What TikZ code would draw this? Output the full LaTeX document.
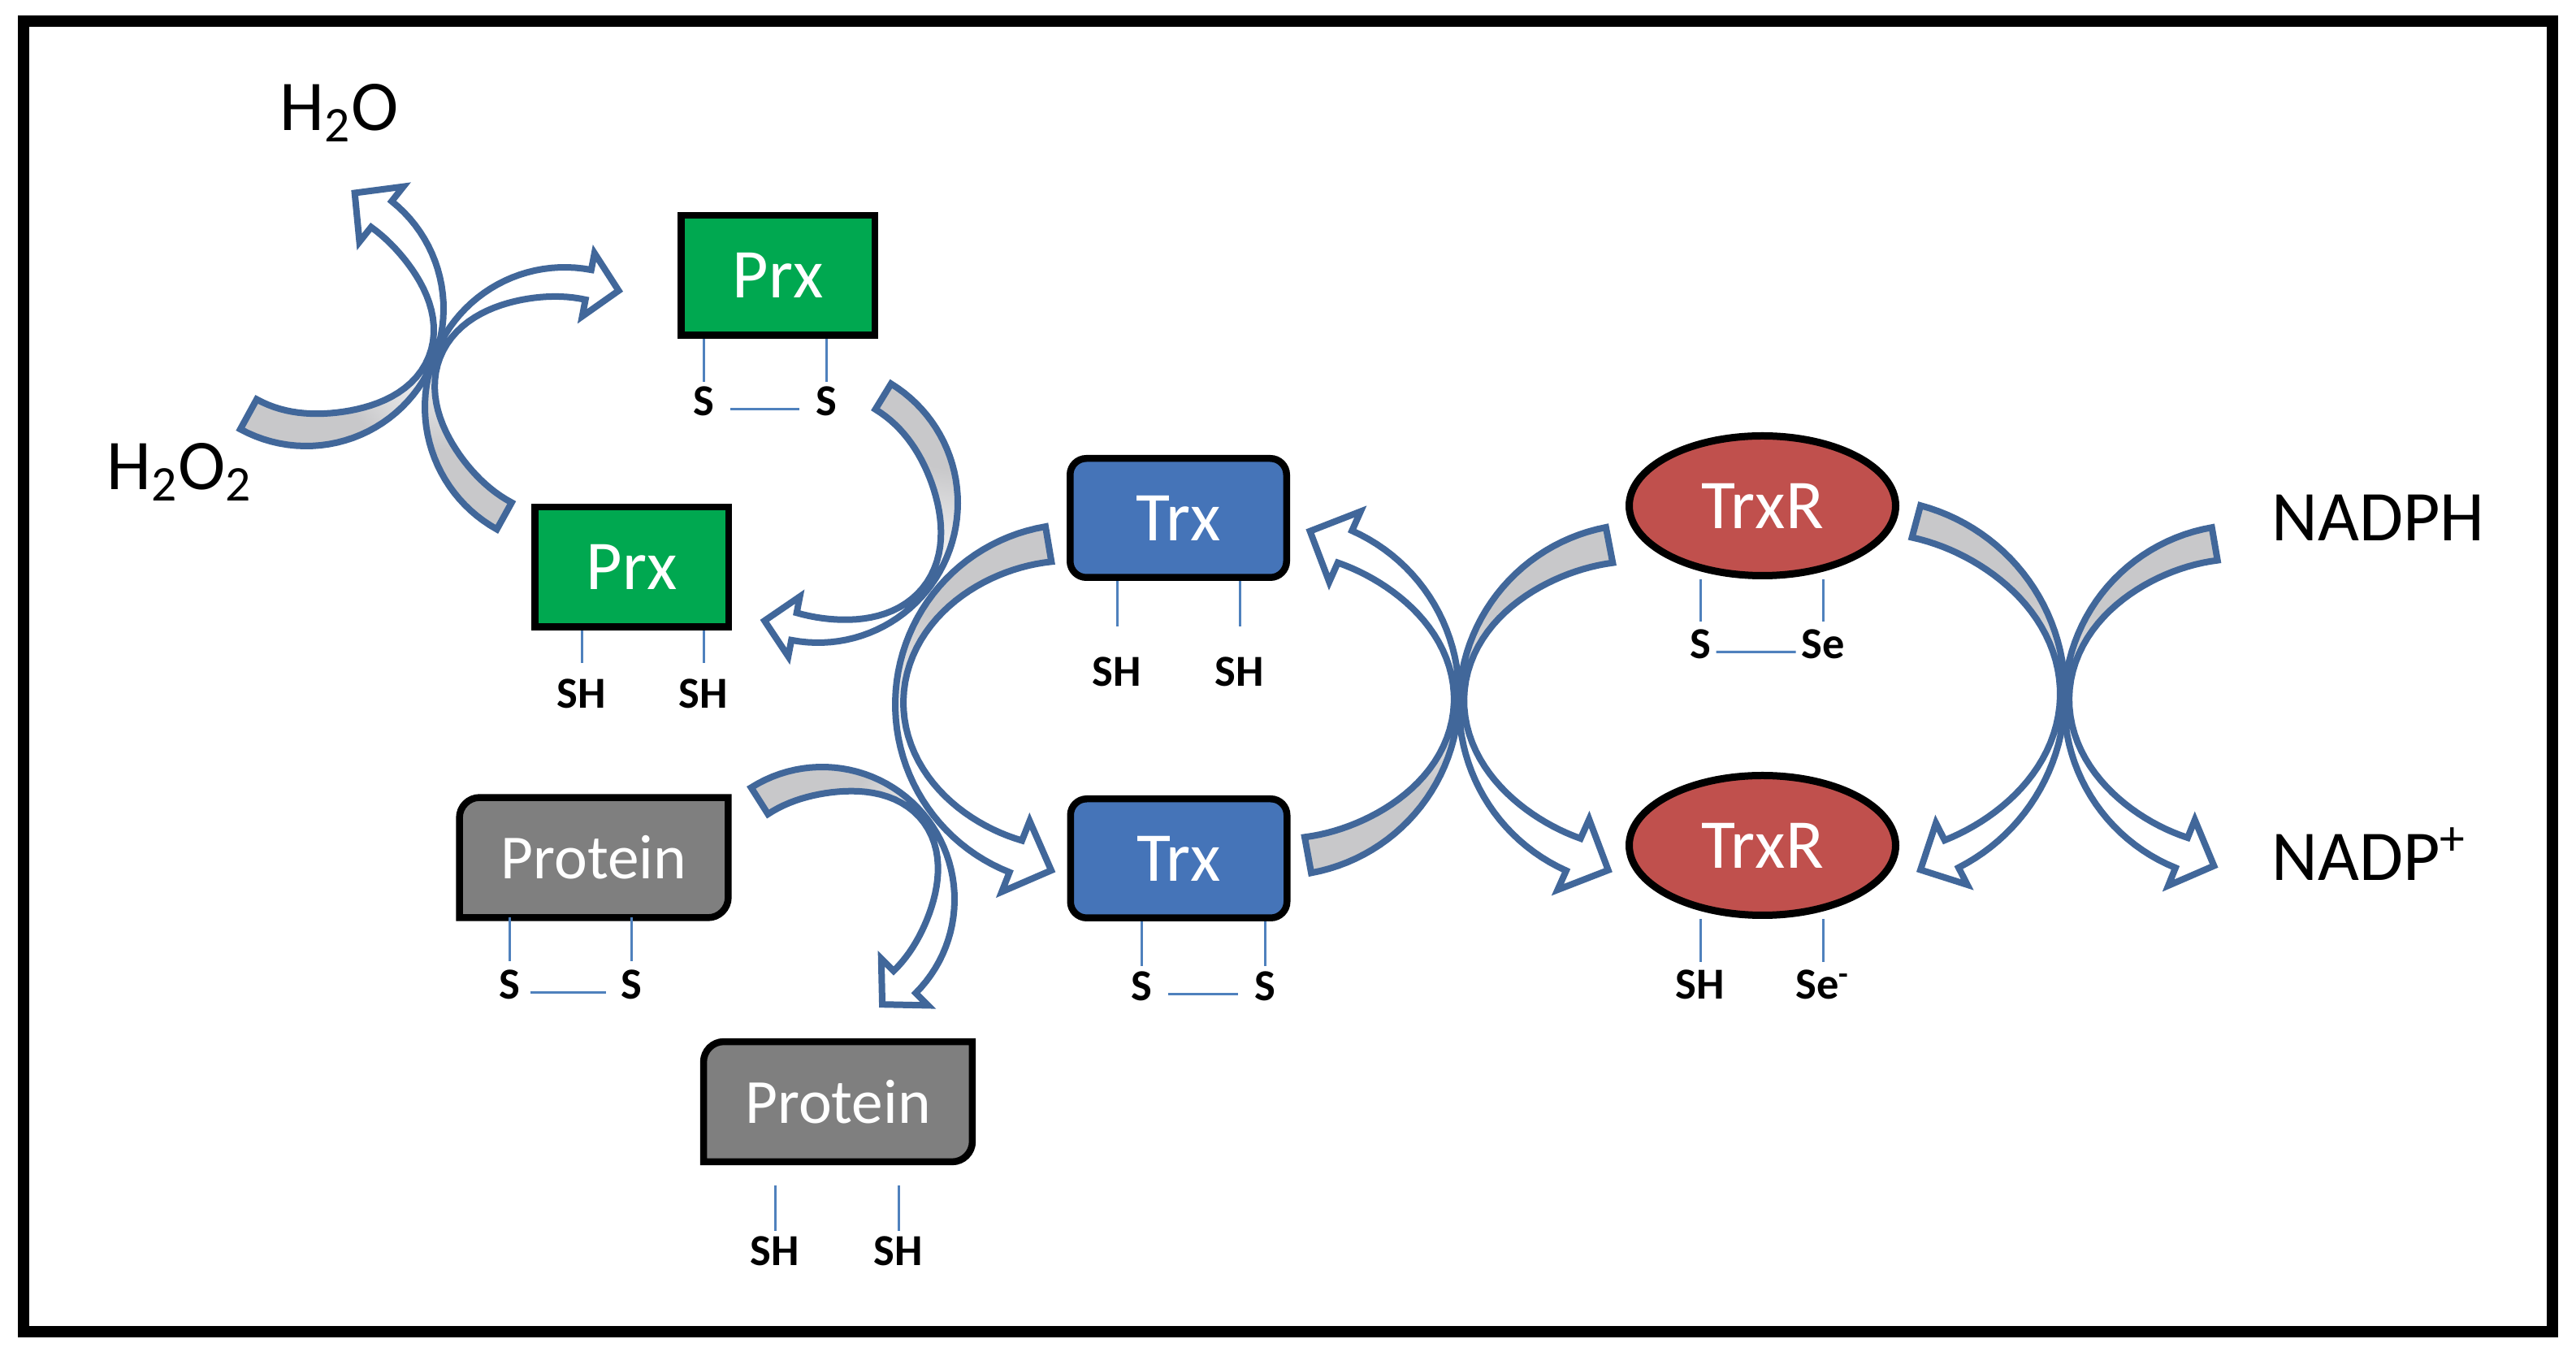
\documentclass[tikz,border=0pt]{standalone}
\usepackage{fontspec}
\setmainfont{Carlito}
\usepackage{xcolor}
\usepackage{tikz}
\usetikzlibrary{backgrounds,shapes,calc}

\definecolor{prxgreen}{RGB}{0,168,80}
\definecolor{trxblue}{RGB}{69,116,184}
\definecolor{trxrred}{RGB}{192,80,77}
\definecolor{protgray}{RGB}{127,127,127}
\definecolor{arrowblue}{RGB}{65,103,154}
\definecolor{tailgray}{RGB}{200,200,202}
\definecolor{bondblue}{RGB}{79,129,189}

\pgfdeclareverticalshading{tailfade}{100bp}{color(0bp)=(tailgray); color(38bp)=(tailgray); color(60bp)=(white); color(100bp)=(white)}

% curved block arrow: centre x, centre y, radius, tail angle, head angle,
% waist angle, end width, waist width, waist spread
\newcommand{\bendarrow}[9]{%
  \pgfmathsetmacro{\baS}{(#5>#4)?1:-1}%
  \pgfmathsetmacro{\baW}{#8+(#7-#8)*(1-exp(0-((#5-(#6))/#9)*((#5-(#6))/#9)))}%
  \pgfmathsetmacro{\baH}{0.55*#7}%
  \pgfmathsetmacro{\baM}{#3-\baW/2}%
  \pgfmathsetmacro{\baTx}{#1+\baM*cos(#5)+#7*cos(#5+\baS*90)}%
  \pgfmathsetmacro{\baTy}{#2+\baM*sin(#5)+#7*sin(#5+\baS*90)}%
  \pgfmathsetmacro{\baCx}{(cos(#4)+cos(#5)+cos(#6))/3}%
  \pgfmathsetmacro{\baCy}{(sin(#4)+sin(#5)+sin(#6))/3}%
  \pgfmathsetmacro{\baA}{atan2(sin(#4)-\baCy,cos(#4)-\baCx)+90}%
  \path[bendarrow, shading angle=\baA]
    plot[domain=#4:#5] ({#1+#3*cos(\x)},{#2+#3*sin(\x)})
    -- ({#1+(#3+\baH)*cos(#5)},{#2+(#3+\baH)*sin(#5)})
    -- (\baTx,\baTy)
    -- ({#1+(#3-\baW-\baH)*cos(#5)},{#2+(#3-\baW-\baH)*sin(#5)})
    -- plot[domain=#5:#4] ({#1+(#3-#8-(#7-#8)*(1-exp(0-((\x-(#6))/#9)*((\x-(#6))/#9))))*cos(\x)},{#2+(#3-#8-(#7-#8)*(1-exp(0-((\x-(#6))/#9)*((\x-(#6))/#9))))*sin(\x)})
    -- cycle;
}

% protein box with two rounded corners
\newcommand{\protframe}[1]{%
  \draw[protborder] ([xshift=0.25cm]#1.north west) -- (#1.north east)
    -- ([yshift=0.25cm]#1.south east) arc[start angle=0, end angle=-90, radius=0.25cm]
    -- (#1.south west) -- ([yshift=-0.25cm]#1.north west)
    arc[start angle=180, end angle=90, radius=0.25cm] -- cycle;
}

\begin{document}
\begin{tikzpicture}[line width=1pt,
  prxbox/.style={draw=black, line width=0.085cm, fill=prxgreen, text=white, inner sep=0pt,
    minimum width=2.385cm, minimum height=1.475cm, font=\fontsize{24.5}{28}\selectfont},
  trxbox/.style={prxbox, fill=trxblue, rounded corners=0.2cm, minimum width=2.665cm, minimum height=1.465cm},
  trxrnode/.style={prxbox, ellipse, fill=trxrred, line width=0.09cm, minimum width=3.28cm, minimum height=1.72cm},
  protnode/.style={text=white, inner sep=0pt, minimum width=3.295cm, minimum height=1.465cm,
    font=\fontsize{22}{26}\selectfont},
  protborder/.style={draw=black, line width=0.085cm, fill=protgray},
  group/.style={font=\bfseries\fontsize{15.5}{18}\selectfont, inner sep=0pt, anchor=base},
  bond/.style={draw=bondblue, line width=0.03cm},
  chem/.style={font=\fontsize{25}{30}\selectfont, inner sep=0pt, anchor=base west},
  bendarrow/.style={draw=arrowblue, line width=0.08cm, shade, shading=tailfade, samples=50}]

\begin{pgfonlayer}{background}
\path[use as bounding box, fill=white] (0,0) rectangle (31.71,-16.64);
\end{pgfonlayer}
\draw[line width=0.145cm] (0.29,-0.26) rectangle (31.42,-16.39);

% H2O2 -> H2O and Prx
\bendarrow{3.77}{-3.80}{1.69}{241.3}{411.5}{339}{0.42}{0.07}{40}
\bendarrow{6.95}{-5.01}{1.72}{241}{79}{158}{0.38}{0.07}{40}
% Prx cycle, Trx cycle, protein
\bendarrow{10.07}{-6.19}{1.72}{58.5}{-101}{-39}{0.37}{0.06}{40}
\bendarrow{13.24}{-8.67}{2.22}{99.6}{248.5}{178}{0.47}{0.10}{50}
\bendarrow{10.12}{-11.07}{1.63}{122.4}{-45}{38}{0.39}{0.06}{40}
% Trx / TrxR
\bendarrow{15.74}{-8.56}{2.22}{-79.6}{66}{-3}{0.47}{0.06}{45}
\bendarrow{20.19}{-8.68}{2.23}{100.9}{245.9}{176}{0.47}{0.06}{45}
% TrxR / NADPH
\bendarrow{23.02}{-8.54}{2.40}{75}{-63}{0}{0.43}{0.06}{45}
\bendarrow{27.60}{-8.65}{2.19}{99.8}{248}{177}{0.43}{0.06}{45}

\node[chem] (hto) at (3.44,-1.61) {H\textsubscript{2}O};
\node[chem] (htoo) at (1.31,-6.03) {H\textsubscript{2}O\textsubscript{2}};
\node[chem] (nadph) at (27.96,-6.66) {NADPH};
\node[chem] (nadp) at (27.96,-10.84) {NADP\textsuperscript{+}};

% Prx
\node[prxbox] (prxa) at (9.575,-3.39) {Prx};
\node[group] (sa1) at (8.66,-5.12) {S};
\node[group] (sa2) at (10.17,-5.12) {S};
\draw[bond] (prxa.south -| sa1) -- ([yshift=0.06cm]sa1.north);
\draw[bond] (prxa.south -| sa2) -- ([yshift=0.06cm]sa2.north);
\draw[bond] ([xshift=0.19cm,yshift=-0.09cm]sa1.east) -- ([xshift=-0.19cm,yshift=-0.09cm]sa2.west);

\node[prxbox] (prxb) at (7.775,-6.98) {Prx};
\node[group] (shb1) at (7.16,-8.72) {SH};
\node[group] (shb2) at (8.66,-8.72) {SH};
\draw[bond] (prxb.south -| shb1) -- ([yshift=0.20cm]shb1.north);
\draw[bond] (prxb.south -| shb2) -- ([yshift=0.20cm]shb2.north);

% Protein
\node[protnode] (prota) at (7.31,-10.555) {Protein};
\node[protnode] (protb) at (10.315,-13.56) {Protein};
\begin{scope}[on background layer]
\protframe{prota}
\protframe{protb}
\end{scope}
\node[group] (sc1) at (6.27,-12.30) {S};
\node[group] (sc2) at (7.77,-12.30) {S};
\draw[bond] (prota.south -| sc1) -- ([yshift=0.11cm]sc1.north);
\draw[bond] (prota.south -| sc2) -- ([yshift=0.11cm]sc2.north);
\draw[bond] ([xshift=0.12cm,yshift=-0.09cm]sc1.east) -- ([xshift=-0.17cm,yshift=-0.09cm]sc2.west);

\node[group] (shd1) at (9.54,-15.58) {SH};
\node[group] (shd2) at (11.06,-15.58) {SH};
\draw[bond] ($(protb.south -| shd1)+(0,-0.29)$) -- ([yshift=0.07cm]shd1.north);
\draw[bond] ($(protb.south -| shd2)+(0,-0.29)$) -- ([yshift=0.07cm]shd2.north);

% Trx
\node[trxbox] (trxa) at (14.505,-6.375) {Trx};
\node[group] (she1) at (13.75,-8.45) {SH};
\node[group] (she2) at (15.26,-8.45) {SH};
\draw[bond] (trxa.south -| she1) -- ([yshift=0.38cm]she1.north);
\draw[bond] (trxa.south -| she2) -- ([yshift=0.38cm]she2.north);

\node[trxbox] (trxb) at (14.51,-10.565) {Trx};
\node[group] (sf1) at (14.05,-12.32) {S};
\node[group] (sf2) at (15.57,-12.32) {S};
\draw[bond] (trxb.south -| sf1) -- ([yshift=0.07cm]sf1.north);
\draw[bond] (trxb.south -| sf2) -- ([yshift=0.07cm]sf2.north);
\draw[bond] ([xshift=0.19cm,yshift=-0.09cm]sf1.east) -- ([xshift=-0.19cm,yshift=-0.09cm]sf2.west);

% TrxR
\node[trxrnode] (trxra) at (21.695,-6.225) {TrxR};
\node[group] (sg1) at (20.93,-8.11) {S};
\node[group] (sg2) at (22.44,-8.11) {Se};
\draw[bond] (trxra.south -| sg1) -- ([yshift=0.10cm]sg1.north);
\draw[bond] (trxra.south -| sg2) -- ([yshift=0.10cm]sg2.north);
\draw[bond] ([xshift=0.06cm,yshift=-0.09cm]sg1.east) -- ([xshift=-0.06cm,yshift=-0.09cm]sg2.west);

\node[trxrnode] (trxrb) at (21.695,-10.405) {TrxR};
\node[group] (sh1) at (20.93,-12.30) {SH};
\node[group] (sh2) at (22.44,-12.30) {Se\textsuperscript{-}};
\draw[bond] (trxrb.south -| sh1) -- ([yshift=0.10cm]sh1.north);
\draw[bond] (trxrb.south -| sh2) -- ([yshift=0.10cm]sh2.north);
\end{tikzpicture}
\end{document}
